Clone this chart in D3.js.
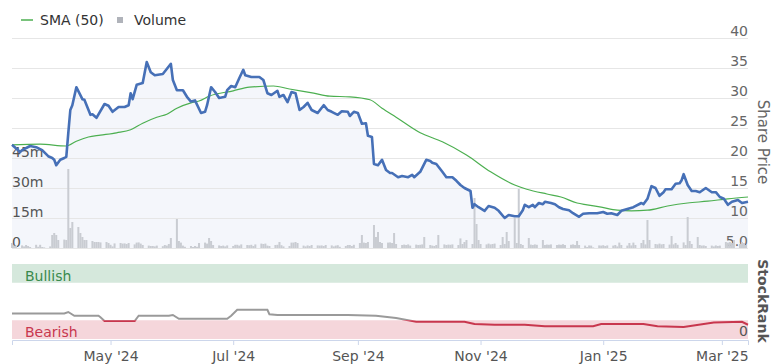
<!DOCTYPE html>
<html>
<head>
<meta charset="utf-8">
<script src="https://cdn.jsdelivr.net/npm/d3@7"></script>
<style>
body { margin: 0; background: #fff; }
svg { display: block; font-family: "DejaVu Sans", Verdana, sans-serif; }
</style>
</head>
<body>
<svg id="chart" width="772" height="364"></svg>
<script>
// share price
var priceSeries = [
["2024-03-13",22.2],["2024-03-17",21.0],["2024-03-18",21.3],["2024-03-22",22.0],["2024-03-25",21.8],
["2024-03-28",21.3],["2024-03-31",20.3],["2024-04-02",20.0],["2024-04-03",19.7],["2024-04-04",18.8],
["2024-04-06",19.7],["2024-04-08",20.0],["2024-04-09",20.2],["2024-04-10",24.2],["2024-04-11",28.0],
["2024-04-12",28.8],["2024-04-14",31.8],["2024-04-17",29.8],["2024-04-18",29.7],["2024-04-21",27.2],
["2024-04-22",27.3],["2024-04-24",26.7],["2024-04-28",29.0],["2024-04-30",28.7],["2024-05-02",27.7],
["2024-05-05",28.5],["2024-05-08",28.5],["2024-05-10",28.8],["2024-05-11",30.8],["2024-05-12",29.8],
["2024-05-14",32.2],["2024-05-17",32.5],["2024-05-19",36.0],["2024-05-21",34.3],["2024-05-23",33.8],
["2024-05-27",34.0],["2024-05-31",35.7],["2024-06-01",33.0],["2024-06-03",31.3],["2024-06-06",31.3],
["2024-06-08",30.2],["2024-06-10",29.4],["2024-06-12",29.6],["2024-06-15",27.5],["2024-06-17",27.7],
["2024-06-18",28.8],["2024-06-20",31.8],["2024-06-22",31.0],["2024-06-24",30.0],["2024-06-27",30.2],
["2024-06-28",31.3],["2024-06-30",32.0],["2024-07-02",31.8],["2024-07-04",33.3],["2024-07-06",34.7],
["2024-07-07",33.8],["2024-07-10",33.5],["2024-07-14",33.5],["2024-07-16",33.0],["2024-07-18",30.8],
["2024-07-20",30.5],["2024-07-23",31.2],["2024-07-24",30.2],["2024-07-26",30.5],["2024-07-28",29.3],
["2024-07-30",31.0],["2024-08-01",30.8],["2024-08-03",28.0],["2024-08-05",28.5],["2024-08-07",29.2],
["2024-08-09",28.0],["2024-08-12",27.5],["2024-08-15",28.8],["2024-08-17",28.0],["2024-08-19",27.7],
["2024-08-22",27.2],["2024-08-24",27.8],["2024-08-27",27.7],["2024-08-28",27.0],["2024-08-30",27.7],
["2024-09-01",27.5],["2024-09-03",25.7],["2024-09-05",25.8],["2024-09-06",23.7],["2024-09-08",23.5],
["2024-09-09",19.0],["2024-09-11",18.8],["2024-09-13",19.7],["2024-09-15",18.0],["2024-09-17",17.5],
["2024-09-18",17.5],["2024-09-21",16.8],["2024-09-23",17.0],["2024-09-26",16.8],["2024-09-28",17.2],
["2024-09-29",16.8],["2024-10-02",17.7],["2024-10-05",19.7],["2024-10-07",19.5],["2024-10-08",19.2],
["2024-10-10",19.0],["2024-10-13",17.7],["2024-10-15",16.8],["2024-10-18",16.8],["2024-10-20",16.2],
["2024-10-22",15.5],["2024-10-24",15.0],["2024-10-27",14.5],["2024-10-28",11.7],["2024-10-29",12.3],
["2024-10-31",11.8],["2024-11-03",11.2],["2024-11-05",12.0],["2024-11-08",11.7],["2024-11-10",11.2],
["2024-11-13",10.0],["2024-11-15",10.5],["2024-11-18",10.3],["2024-11-20",10.3],["2024-11-22",11.3],
["2024-11-23",12.2],["2024-11-25",11.8],["2024-11-27",12.2],["2024-11-28",11.8],["2024-11-30",12.5],
["2024-12-02",12.3],["2024-12-03",12.7],["2024-12-06",12.5],["2024-12-08",12.3],["2024-12-10",11.8],
["2024-12-12",11.5],["2024-12-15",11.3],["2024-12-17",10.8],["2024-12-20",10.2],["2024-12-22",10.7],
["2024-12-25",10.8],["2024-12-29",10.8],["2025-01-01",11.0],["2025-01-03",10.7],["2025-01-05",10.8],
["2025-01-08",10.5],["2025-01-10",11.2],["2025-01-13",11.5],["2025-01-16",11.8],["2025-01-20",12.5],
["2025-01-21",12.3],["2025-01-23",13.2],["2025-01-25",15.3],["2025-01-27",15.0],["2025-01-29",13.7],
["2025-01-31",14.3],["2025-02-01",14.8],["2025-02-04",14.8],["2025-02-06",15.7],["2025-02-08",15.8],
["2025-02-09",16.3],["2025-02-10",17.3],["2025-02-12",15.5],["2025-02-14",14.5],["2025-02-16",14.5],
["2025-02-18",14.3],["2025-02-21",15.0],["2025-02-24",14.3],["2025-02-26",14.3],["2025-02-28",13.5],
["2025-03-02",13.2],["2025-03-04",12.2],["2025-03-06",12.7],["2025-03-09",13.0],["2025-03-11",12.5],
["2025-03-14",12.7]
];

// 50 day moving average
var smaSeries = [
["2024-03-13",22.2],["2024-03-27",22.3],["2024-04-09",22.0],["2024-04-14",22.8],["2024-04-20",23.5],
["2024-04-26",23.8],["2024-05-04",24.2],["2024-05-11",24.7],["2024-05-17",25.8],["2024-05-24",26.8],
["2024-05-29",27.3],["2024-06-03",28.3],["2024-06-10",29.2],["2024-06-14",29.5],["2024-06-19",30.3],
["2024-07-01",31.2],["2024-07-09",31.8],["2024-07-21",32.0],["2024-07-29",31.5],["2024-08-10",30.8],
["2024-08-18",30.3],["2024-08-28",30.2],["2024-09-07",29.7],["2024-09-13",28.3],["2024-09-20",26.8],
["2024-10-02",24.2],["2024-10-13",22.7],["2024-10-25",20.5],["2024-11-06",17.7],["2024-11-18",15.5],
["2024-11-24",14.8],["2024-12-04",14.0],["2024-12-11",13.5],["2024-12-19",12.5],["2024-12-24",12.2],
["2024-12-31",11.8],["2025-01-08",11.3],["2025-01-15",11.2],["2025-01-23",11.3],["2025-02-02",12.0],
["2025-02-12",12.5],["2025-02-22",12.8],["2025-03-04",13.2],["2025-03-14",13.5]
];

// daily volume (millions), one value per weekday from 2024-03-13
var volumeMillions = [
2.5,1.2,1.0,1.3,0.8,1.5,1.0,0.5,1.6,0.6,
1.6,0.5,0.3,0.8,6.5,7.5,6.5,4.0,4.2,4.0,
39.5,10,13,10.5,7.5,5.5,4.0,4.0,3.5,3.0,
3.0,3.0,2.8,3.0,2.5,1.6,0.8,2.3,2.5,2.2,
2.3,2.0,2.5,1.8,2.7,2.8,2.2,1.5,1.2,1.0,
1.0,0.8,1.2,0.9,1.5,1.2,2.0,5.0,14.5,3.5,
2.7,1.2,0.6,1.0,0.5,1.0,0.6,2.5,2.7,2.2,
5.0,3.5,1.5,1.3,1.0,1.2,0.8,1.3,1.0,1.6,
1.6,1.2,1.8,1.5,1.4,1.6,1.0,1.8,2.2,2.0,
2.2,1.2,1.0,1.5,1.6,3.0,1.4,0.8,1.0,2.7,
2.7,3.0,2.5,1.2,0.8,1.3,1.0,1.5,1.3,1.2,
1.3,1.0,1.5,1.3,0.8,1.2,1.4,0.6,1.0,1.5,
1.5,1.0,1.6,2.5,6.5,2.7,2.5,3.0,11.5,5.5,
8.0,3.0,2.5,2.7,2.8,2.5,7.5,2.0,1.5,1.7,
1.5,1.8,1.2,1.7,1.5,1.6,1.8,5.5,1.5,1.2,
1.0,1.5,6.5,1.8,1.5,1.7,1.6,1.8,1.5,4.8,
2.0,3.0,4.0,2.0,25.0,12.0,4.0,2.0,1.8,2.2,
1.8,2.0,2.2,1.5,5.5,2.0,8.0,3.5,15.0,2.5,
29.5,2.0,1.5,5.0,1.7,1.5,1.8,1.6,4.0,1.5,
1.7,1.6,1.8,1.5,1.7,1.6,1.9,1.5,1.6,1.8,
1.5,3.5,1.5,1.2,0.5,1.3,1.2,0.3,1.3,1.2,
1.4,1.0,1.3,1.2,1.5,0.8,2.7,1.5,1.2,2.5,
1.3,2.7,1.5,2.5,4.0,1.8,14.0,4.0,2.0,1.8,
2.2,1.8,2.0,1.7,6.0,1.8,2.5,1.6,2.8,1.5,
15.5,3.5,2.0,5.5,1.5,1.2,1.3,1.0,1.2,0.8,
1.3,1.0,1.2,3.0,2.7,3.0,2.5,4.0,2.0,3.0,2.5,1.5
];

// StockRank (0-100)
var rankSeries = [
["2024-03-13",34],["2024-03-27",34],["2024-04-08",34],["2024-04-10",36],["2024-04-13",31],
["2024-04-25",31],["2024-04-26",29],["2024-04-28",24],["2024-05-13",24],["2024-05-15",31],
["2024-05-30",31],["2024-06-01",32],["2024-06-04",27],["2024-06-23",27],["2024-06-28",27],
["2024-06-30",31],["2024-07-03",39],["2024-07-18",39],["2024-07-19",33],["2024-07-23",32],
["2024-08-27",32],["2024-09-10",31],["2024-09-20",28],["2024-09-30",23],["2024-10-24",23],
["2024-10-29",20],["2024-11-08",19],["2024-11-23",19],["2024-12-03",17],["2024-12-27",17],
["2024-12-31",20],["2025-01-21",20],["2025-01-28",17],["2025-02-10",16],["2025-02-25",22],
["2025-03-11",23],["2025-03-14",19]
];

var priceTicks = [5, 10, 15, 20, 25, 30, 35, 40];
var priceTickLabels = ["5.0", "10", "15", "20", "25", "30", "35", "40"];
var volumeTicks = [0, 15, 30, 45];
var monthTicks = ["2024-05-01", "2024-07-01", "2024-09-01", "2024-11-01", "2025-01-01", "2025-03-01"];
var bearishMax = 25, bullishMin = 75;

var parse = d3.timeParse("%Y-%m-%d");
var svg = d3.select("#chart");

var plotLeft = 12, plotRight = 748, plotTop = 38, plotBottom = 248;
var x = d3.scaleTime().domain([parse("2024-03-13"), parse("2025-03-14")]).range([plotLeft, plotRight]);
var yPrice = d3.scaleLinear().domain([5, 40]).range([plotBottom, plotTop]);
var yVol = d3.scaleLinear().domain([0, 105]).range([plotBottom, plotTop]);
var yRank = d3.scaleLinear().domain([0, 100]).range([339, 264]);

var price = priceSeries.map(d => ({date: parse(d[0]), value: d[1]}));
var sma = smaSeries.map(d => ({date: parse(d[0]), value: d[1]}));
var rank = rankSeries.map(d => ({date: parse(d[0]), value: d[1]}));

var weekdays = d3.timeDay.range(parse("2024-03-13"), parse("2025-03-15"))
    .filter(d => d.getDay() !== 0 && d.getDay() !== 6);
var volume = weekdays.slice(0, volumeMillions.length).map((d, i) => ({date: d, value: volumeMillions[i]}));

// area under price
svg.append("path")
    .datum(price)
    .attr("fill", "#f4f6fb")
    .attr("d", d3.area().x(d => x(d.date)).y0(plotBottom).y1(d => yPrice(d.value)));

// price grid + right labels
var priceAxis = svg.append("g")
    .attr("transform", `translate(${plotRight},0)`)
    .call(d3.axisRight(yPrice).tickValues(priceTicks).tickSize(-(plotRight - plotLeft))
        .tickFormat((d, i) => priceTickLabels[i]));
priceAxis.select(".domain").remove();
priceAxis.selectAll("line").attr("stroke", "#e6e6e6");
priceAxis.selectAll("text")
    .attr("x", 0).attr("dy", -3)
    .attr("text-anchor", "end")
    .attr("fill", "#666").style("font-size", "14px")
    .style("font-family", "DejaVu Sans, sans-serif");

// volume labels on the left
var volAxis = svg.append("g")
    .attr("transform", `translate(${plotLeft},0)`)
    .call(d3.axisLeft(yVol).tickValues(volumeTicks).tickSize(0)
        .tickFormat(d => d === 0 ? "0" : d + "m"));
volAxis.select(".domain").remove();
volAxis.selectAll("text")
    .attr("x", 0).attr("dy", -2)
    .attr("text-anchor", "start")
    .attr("fill", "#555").style("font-size", "14px")
    .style("font-family", "DejaVu Sans, sans-serif");

// volume bars
svg.append("g")
    .attr("fill", "#c9ccd2")
    .selectAll("rect")
    .data(volume)
    .enter().append("rect")
    .attr("x", d => x(d.date) - 1)
    .attr("y", d => yVol(d.value))
    .attr("width", 2)
    .attr("height", d => plotBottom - yVol(d.value));

// SMA
svg.append("path")
    .datum(sma)
    .attr("fill", "none")
    .attr("stroke", "#4caf50")
    .attr("stroke-width", 1.2)
    .attr("d", d3.line().x(d => x(d.date)).y(d => yPrice(d.value)).curve(d3.curveMonotoneX));

// price line
svg.append("path")
    .datum(price)
    .attr("fill", "none")
    .attr("stroke", "#4670b7")
    .attr("stroke-width", 2.6)
    .attr("stroke-linejoin", "round")
    .attr("d", d3.line().x(d => x(d.date)).y(d => yPrice(d.value)));

// legend
svg.append("line").attr("x1", 21).attr("x2", 33).attr("y1", 20).attr("y2", 20)
    .attr("stroke", "#4caf50").attr("stroke-width", 1.5);
svg.append("text").attr("x", 40).attr("y", 25).text("SMA (50)")
    .attr("fill", "#333").style("font-size", "14px");
svg.append("rect").attr("x", 117).attr("y", 17).attr("width", 6).attr("height", 6).attr("fill", "#b0b3ba");
svg.append("text").attr("x", 134).attr("y", 25).text("Volume")
    .attr("fill", "#333").style("font-size", "14px");

svg.append("text")
    .attr("transform", "translate(758,142) rotate(90)")
    .attr("text-anchor", "middle")
    .attr("fill", "#666").style("font-size", "15px")
    .text("Share Price");

// StockRank panel
svg.append("rect").attr("x", plotLeft).attr("width", plotRight - plotLeft)
    .attr("y", yRank(100)).attr("height", yRank(bullishMin) - yRank(100))
    .attr("fill", "#d5e8dc");
svg.append("rect").attr("x", plotLeft).attr("width", plotRight - plotLeft)
    .attr("y", yRank(bearishMax)).attr("height", yRank(0) - yRank(bearishMax))
    .attr("fill", "#f5d6db");
svg.append("text").attr("x", 25).attr("y", 281).text("Bullish")
    .attr("fill", "#3a8a4c").style("font-size", "14px");
svg.append("text").attr("x", 25).attr("y", 337).text("Bearish")
    .attr("fill", "#c8374e").style("font-size", "14px");
svg.append("text").attr("x", plotRight).attr("y", 336).attr("text-anchor", "end").text("0")
    .attr("fill", "#555").style("font-size", "14px");

var defs = svg.append("defs");
defs.append("clipPath").attr("id", "above").append("rect")
    .attr("x", 0).attr("y", 0).attr("width", 772).attr("height", yRank(bearishMax));
defs.append("clipPath").attr("id", "below").append("rect")
    .attr("x", 0).attr("y", yRank(bearishMax)).attr("width", 772).attr("height", 364 - yRank(bearishMax));

var rankLine = d3.line().x(d => x(d.date)).y(d => yRank(d.value));
svg.append("path").datum(rank).attr("clip-path", "url(#above)")
    .attr("fill", "none").attr("stroke", "#9a9a9a").attr("stroke-width", 2).attr("d", rankLine);
svg.append("path").datum(rank).attr("clip-path", "url(#below)")
    .attr("fill", "none").attr("stroke", "#c8374e").attr("stroke-width", 2).attr("d", rankLine);

svg.append("text")
    .attr("transform", "translate(758,301) rotate(90)")
    .attr("text-anchor", "middle")
    .attr("fill", "#555").style("font-size", "14px").style("font-weight", "bold")
    .text("StockRank");

// time axis
var xAxis = svg.append("g")
    .attr("transform", "translate(0,340)")
    .call(d3.axisBottom(x).tickValues(monthTicks.map(parse)).tickSize(5)
        .tickFormat(d3.timeFormat("%b '%y")));
xAxis.select(".domain").attr("stroke", "#ccd6eb");
xAxis.selectAll("line").attr("stroke", "#ccd6eb");
xAxis.selectAll("text")
    .attr("fill", "#555").attr("dy", "0.9em")
    .style("font-size", "14px")
    .style("font-family", "DejaVu Sans, sans-serif");
</script>
</body>
</html>
